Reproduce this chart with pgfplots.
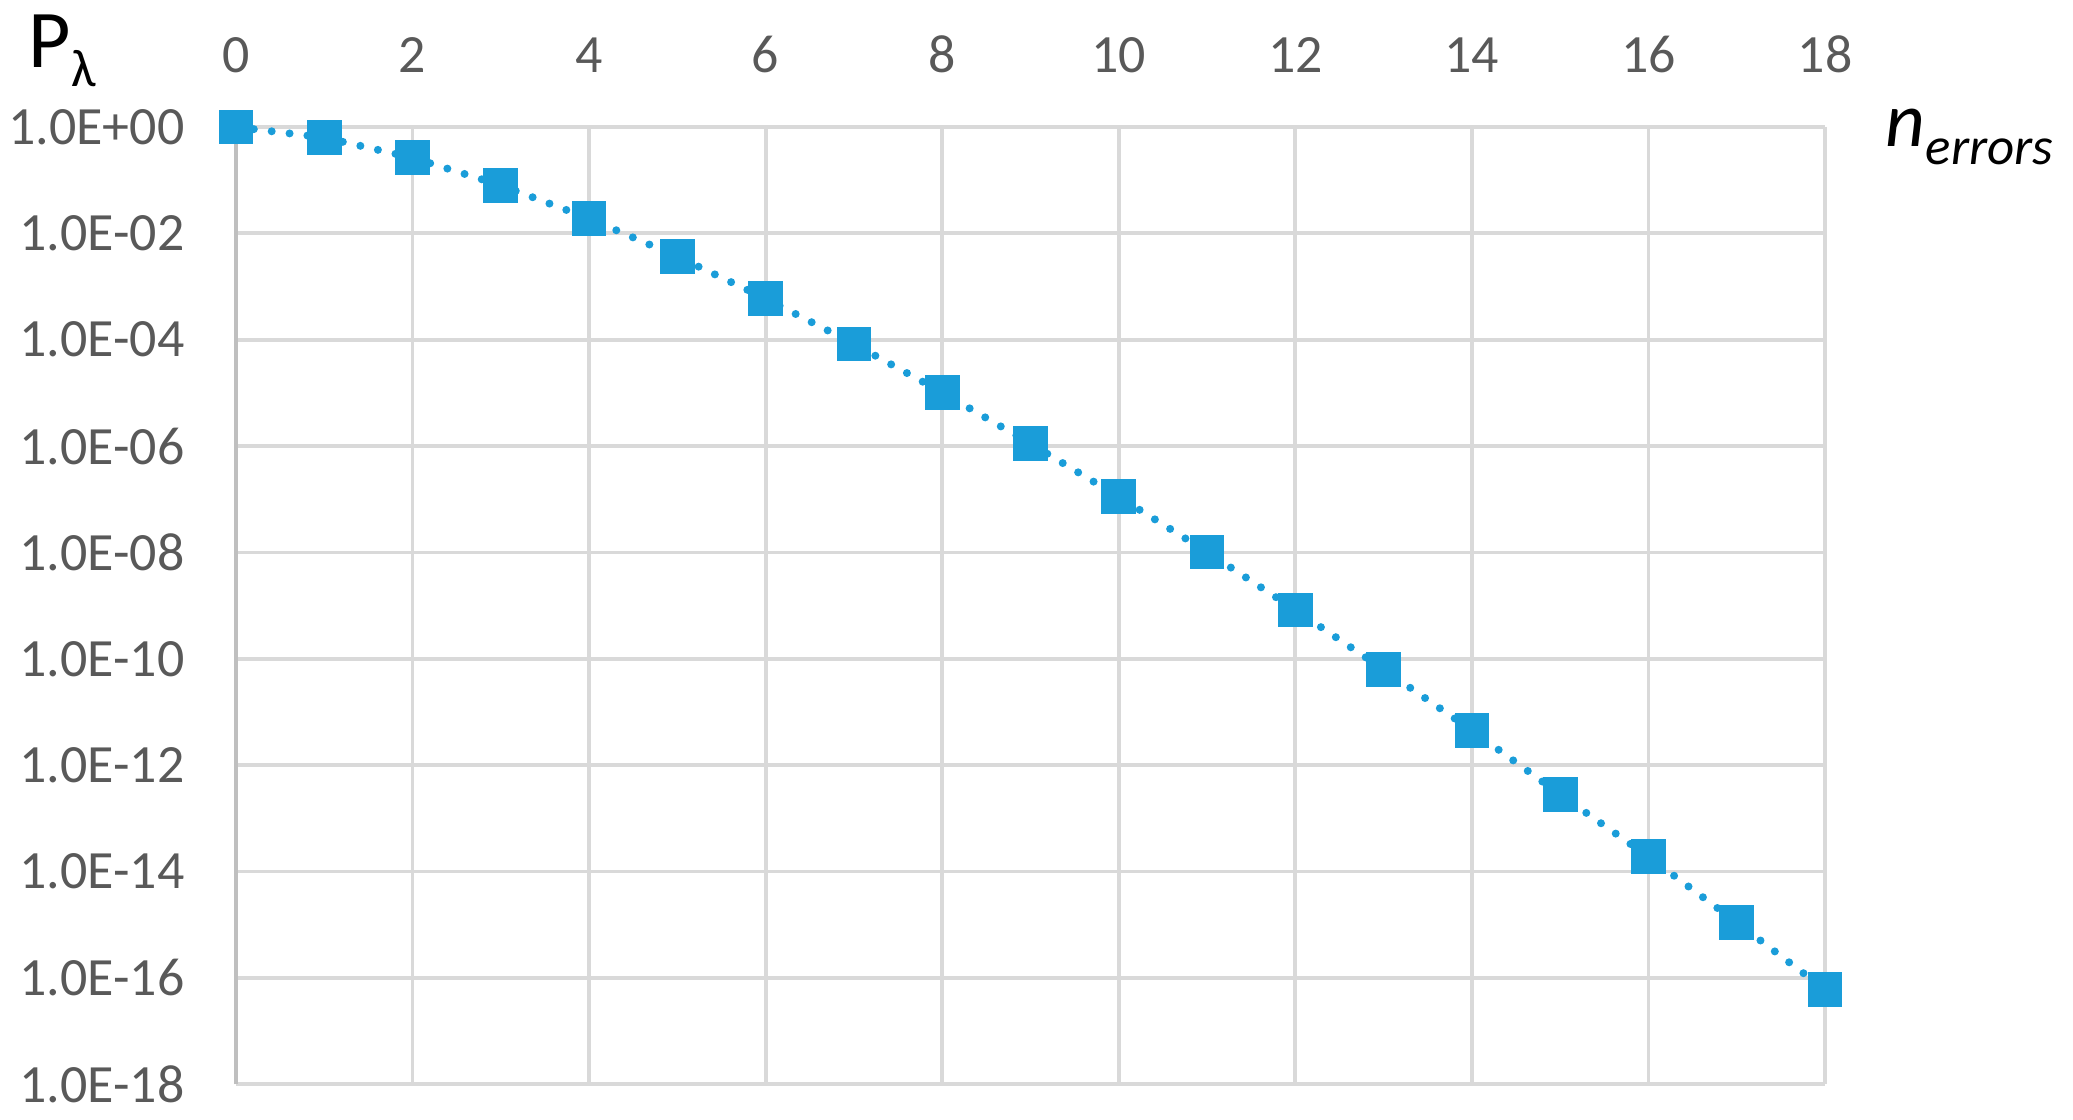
\documentclass[border=0pt]{standalone}
\usepackage{pgfplots}
\pgfplotsset{compat=1.18}
\usepackage{fontspec}
\setmainfont{Carlito}
\definecolor{ptBlue}{HTML}{1A9DD9}
\definecolor{gridGray}{HTML}{D9D9D9}
\definecolor{axisGray}{HTML}{BFBFBF}
\definecolor{tickGray}{HTML}{595959}

\begin{document}
\begin{tikzpicture}
\begin{axis}[scale only axis,width=119.2mm,height=71.8mm,
    ymode=log,xmin=0,xmax=18,ymin=1e-18,ymax=1,
    xtick={0,2,...,18},xticklabel pos=upper,
    ytick={1,1e-2,1e-4,1e-6,1e-8,1e-10,1e-12,1e-14,1e-16,1e-18},
    yticklabels={1.0E+00,1.0E-02,1.0E-04,1.0E-06,1.0E-08,1.0E-10,1.0E-12,1.0E-14,1.0E-16,1.0E-18},
    minor ytick={},major tick length=0pt,
    /pgf/number format/assume math mode=true,
    ticklabel style={font=\fontsize{11.5}{13}\selectfont,text=tickGray,inner sep=0pt},
    xticklabel style={anchor=base,yshift=4.1mm},
    yticklabel style={anchor=east,xshift=-3.8mm},
    grid=major,grid style={gridGray,line width=0.8pt},
    axis line style={draw=none},clip=false]
\draw[axisGray,line width=1pt](rel axis cs:0,0)--(rel axis cs:0,1);
\addplot[ptBlue,line width=0.6mm,line cap=round,dash pattern=on 0pt off 1.35mm,
    mark=square*,mark size=1.25mm,mark options={solid,fill=ptBlue,draw=ptBlue,line width=0.1mm,rounded corners=0.2mm}]
coordinates{(0,1)(1,0.632)(2,0.264)(3,0.0803)(4,0.0190)(5,0.00366)(6,5.94e-4)(7,8.32e-5)
(8,1.02e-5)(9,1.11e-6)(10,1.11e-7)(11,1.02e-8)(12,8.3e-10)(13,6.3e-11)(14,4.5e-12)
(15,2.8e-13)(16,1.9e-14)(17,1.1e-15)(18,6.0e-17)};
\node[anchor=base west,inner sep=0pt,xshift=-15.6mm,yshift=4.43mm] at (rel axis cs:0,1)
    {\fontsize{17.5}{20}\selectfont P\raisebox{-1.4mm}{\fontsize{11.3}{13}\selectfont λ}};
\node[anchor=base west,inner sep=0pt,xshift=4.5mm,yshift=-1.5mm] at (rel axis cs:1,1)
    {\fontsize{16.5}{19}\selectfont\itshape n\raisebox{-1.35mm}{\fontsize{11.3}{13}\selectfont errors}};
\path (rel axis cs:0,0) ++(-17.7mm,-2.625mm) coordinate (bbl);
\path (rel axis cs:1,1) ++(18.6mm,9.525mm) coordinate (btr);
\end{axis}
\useasboundingbox (bbl) rectangle (btr);
\end{tikzpicture}
\end{document}
